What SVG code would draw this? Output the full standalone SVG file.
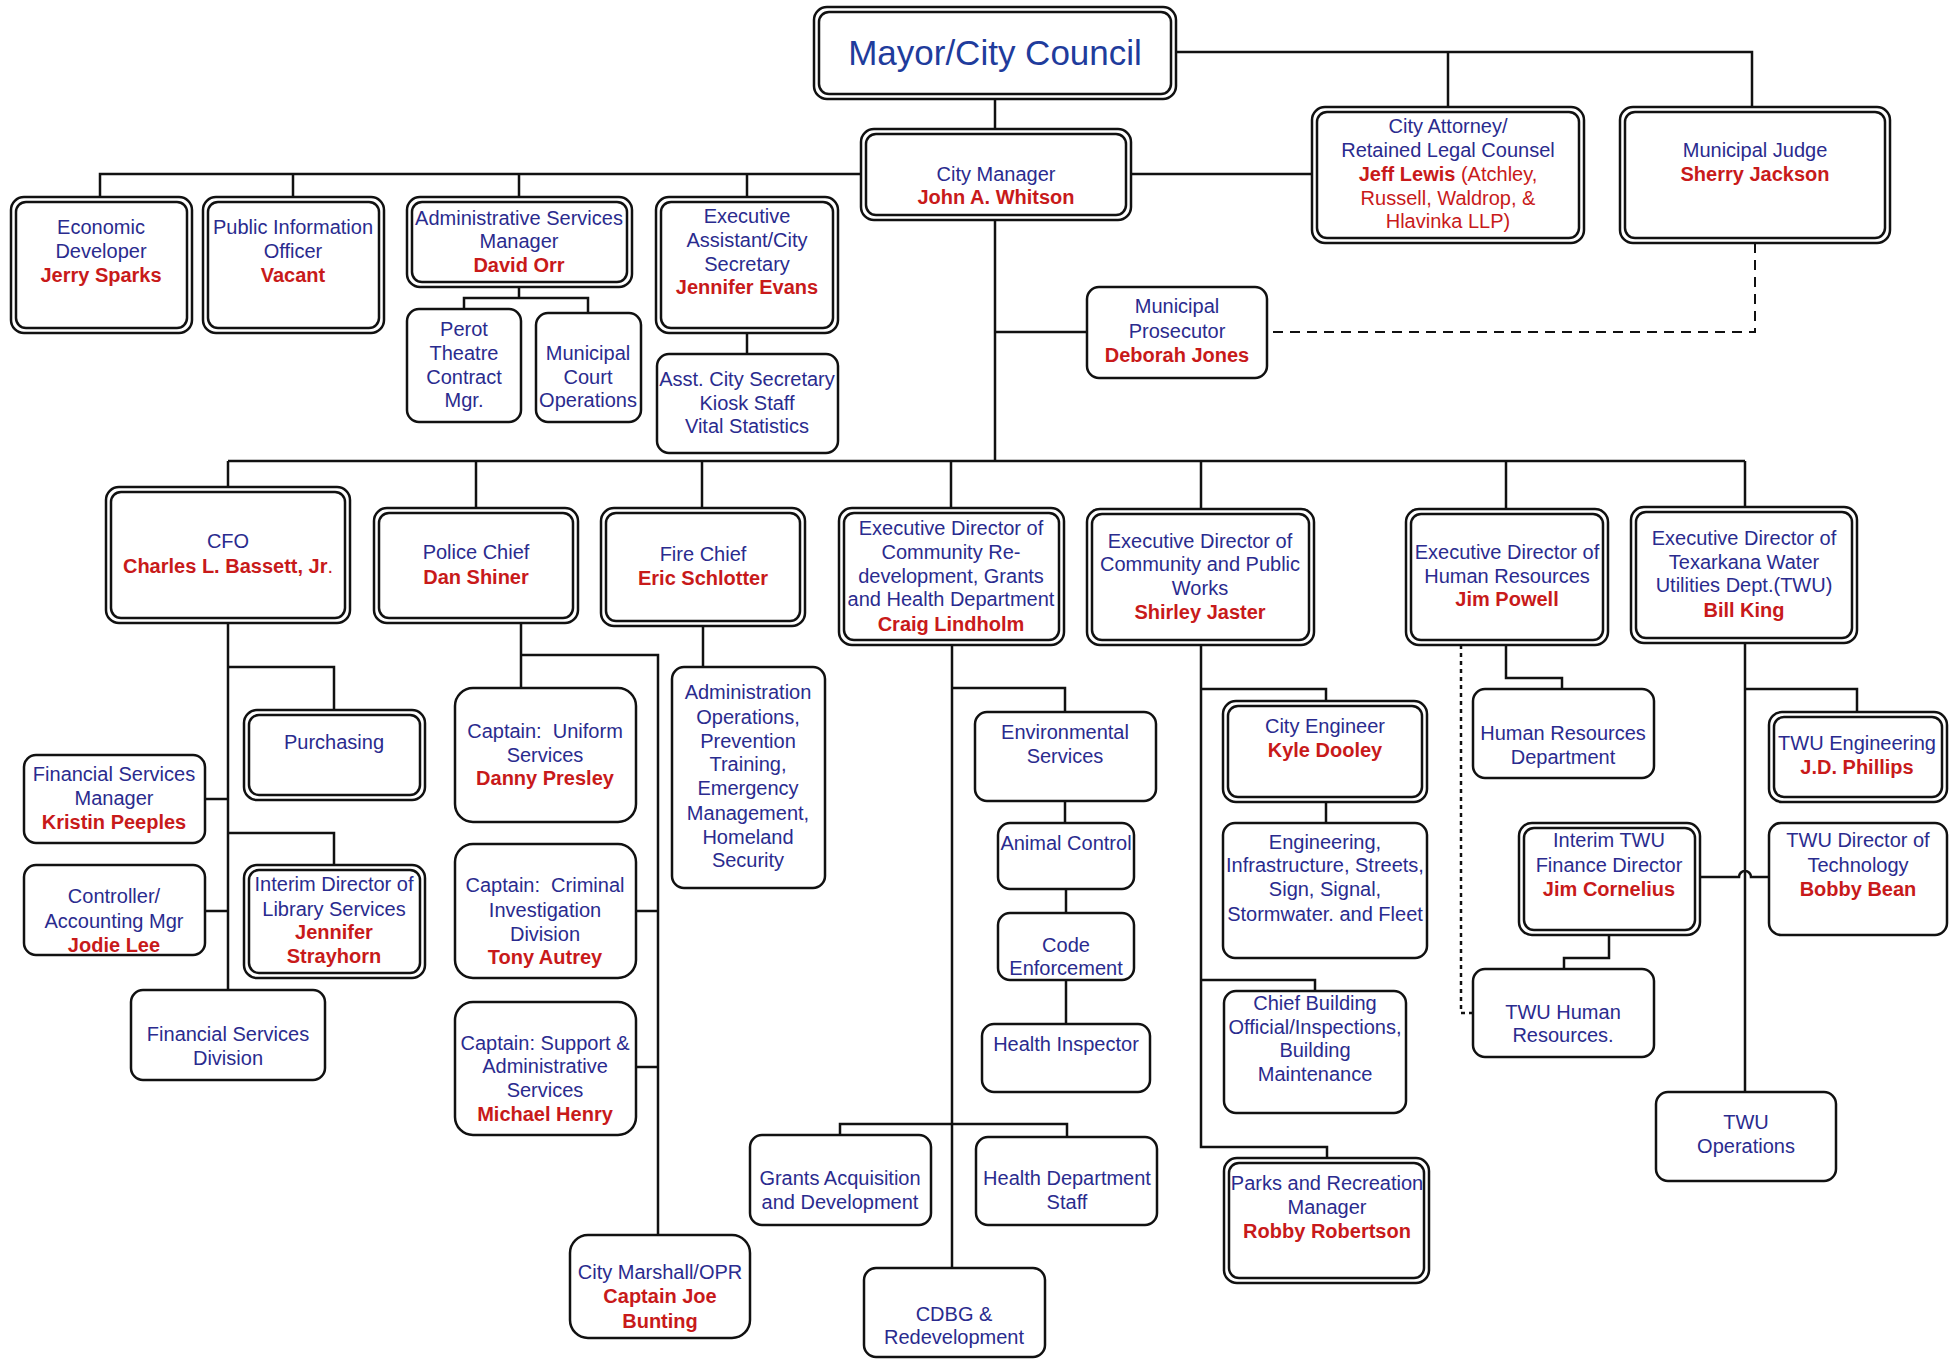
<svg xmlns="http://www.w3.org/2000/svg" width="1949" height="1360" viewBox="0 0 1949 1360">
<style>
rect{fill:#fff;stroke:#111;stroke-width:2.5}
.in{fill:none}
text{font-family:"Liberation Sans",Arial,sans-serif;font-size:20px;fill:#2a2b8e;text-anchor:middle}
.pre{white-space:pre}
.r{fill:#c81a1a;font-weight:bold}
.rn{fill:#c81a1a}
.title{font-size:35px;fill:#1f3c9c}
#connectors path{fill:none;stroke:#111;stroke-width:2.5}
#connectors .dash{stroke-dasharray:10 7;stroke-width:2}
#connectors .dot{stroke-dasharray:4 4;stroke-width:2.5}
</style>
<rect x="0" y="0" width="1949" height="1360" style="fill:#fff;stroke:none"/>
<g id="connectors">
<path d="M995,99V129"/>
<path d="M1176,52H1752V107M1448,52V107"/>
<path d="M1131,174H1312"/>
<path d="M861,174H100V197M293,174V197M519,174V197M747,174V197"/>
<path d="M519,287V298M464,309V298H588V313"/>
<path d="M747,333V354"/>
<path d="M995,220V461"/>
<path d="M995,332H1087"/>
<path class="dash" d="M1755,243V332H1267"/>
<path d="M228,461H1745M228,461V487M476,461V508M702,461V508M951,461V508M1201,461V509M1506,461V509M1745,461V507"/>
<path d="M228,623V990M228,667H334V710M205,799H228M228,833H334V865M205,911H228"/>
<path d="M521,623V688M521,655H658V1237M636,911H658M636,1067H658"/>
<path d="M703,626V667"/>
<path d="M952,645V1268M952,688H1065V712M1065,801V823M1066,889V913M1066,980V1024M840,1135V1124H1067V1137"/>
<path d="M1201,645V1147H1327V1158M1201,689H1326V701M1326,802V823M1201,980H1315V991"/>
<path d="M1506,645V678H1562V689"/>
<path class="dot" d="M1461,645V1013H1473"/>
<path d="M1609,935V958H1564V969"/>
<path d="M1745,643V1092M1745,689H1857V712"/>
<path d="M1700,877H1739A6,6 0 0 1 1751,877H1769"/>
</g>
<g id="mayor"><rect x="814" y="7" width="362" height="92" rx="13"/><rect class="in" x="819" y="12" width="352" height="82" rx="10"/><text class="title" x="995" y="65">Mayor/City Council</text></g>
<g id="city-manager"><rect x="861" y="129" width="270" height="91" rx="13"/><rect class="in" x="866" y="134" width="260" height="81" rx="10"/><text x="996" y="181">City Manager</text><text class="r" x="996" y="204">John A. Whitson</text></g>
<g id="city-attorney"><rect x="1312" y="107" width="272" height="136" rx="13"/><rect class="in" x="1317" y="112" width="262" height="126" rx="10"/><text x="1448" y="133">City Attorney/</text><text x="1448" y="157">Retained Legal Counsel</text><text class="rn" x="1448" y="181"><tspan font-weight="bold">Jeff Lewis</tspan> (Atchley,</text><text class="rn" x="1448" y="205">Russell, Waldrop, &amp;</text><text class="rn" x="1448" y="228">Hlavinka LLP)</text></g>
<g id="municipal-judge"><rect x="1620" y="107" width="270" height="136" rx="13"/><rect class="in" x="1625" y="112" width="260" height="126" rx="10"/><text x="1755" y="157">Municipal Judge</text><text class="r" x="1755" y="181">Sherry Jackson</text></g>
<g id="municipal-prosecutor"><rect x="1087" y="287" width="180" height="91" rx="12"/><text x="1177" y="313">Municipal</text><text x="1177" y="338">Prosecutor</text><text class="r" x="1177" y="362">Deborah Jones</text></g>
<g id="economic-developer"><rect x="11" y="197" width="181" height="136" rx="13"/><rect class="in" x="16" y="202" width="171" height="126" rx="10"/><text x="101" y="234">Economic</text><text x="101" y="258">Developer</text><text class="r" x="101" y="282">Jerry Sparks</text></g>
<g id="public-information-officer"><rect x="203" y="197" width="181" height="136" rx="13"/><rect class="in" x="208" y="202" width="171" height="126" rx="10"/><text x="293" y="234">Public Information</text><text x="293" y="258">Officer</text><text class="r" x="293" y="282">Vacant</text></g>
<g id="administrative-services"><rect x="407" y="197" width="225" height="90" rx="13"/><rect class="in" x="412" y="202" width="215" height="80" rx="10"/><text x="519" y="225">Administrative Services</text><text x="519" y="248">Manager</text><text class="r" x="519" y="272">David Orr</text></g>
<g id="perot-theatre"><rect x="407" y="309" width="114" height="113" rx="12"/><text x="464" y="336">Perot</text><text x="464" y="360">Theatre</text><text x="464" y="384">Contract</text><text x="464" y="407">Mgr.</text></g>
<g id="municipal-court"><rect x="536" y="313" width="105" height="109" rx="12"/><text x="588" y="360">Municipal</text><text x="588" y="384">Court</text><text x="588" y="407">Operations</text></g>
<g id="executive-assistant"><rect x="656" y="197" width="182" height="136" rx="13"/><rect class="in" x="661" y="202" width="172" height="126" rx="10"/><text x="747" y="223">Executive</text><text x="747" y="247">Assistant/City</text><text x="747" y="271">Secretary</text><text class="r" x="747" y="294">Jennifer Evans</text></g>
<g id="asst-city-secretary"><rect x="657" y="354" width="181" height="99" rx="12"/><text x="747" y="386">Asst. City Secretary</text><text x="747" y="410">Kiosk Staff</text><text x="747" y="433">Vital Statistics</text></g>
<g id="cfo"><rect x="106" y="487" width="244" height="136" rx="13"/><rect class="in" x="111" y="492" width="234" height="126" rx="10"/><text x="228" y="548">CFO</text><text class="r" x="228" y="573">Charles L. Bassett, Jr<tspan font-weight="normal">.</tspan></text></g>
<g id="police-chief"><rect x="374" y="508" width="204" height="115" rx="13"/><rect class="in" x="379" y="513" width="194" height="105" rx="10"/><text x="476" y="559">Police Chief</text><text class="r" x="476" y="584">Dan Shiner</text></g>
<g id="fire-chief"><rect x="601" y="508" width="204" height="118" rx="13"/><rect class="in" x="606" y="513" width="194" height="108" rx="10"/><text x="703" y="561">Fire Chief</text><text class="r" x="703" y="585">Eric Schlotter</text></g>
<g id="community-redevelopment"><rect x="839" y="508" width="225" height="137" rx="13"/><rect class="in" x="844" y="513" width="215" height="127" rx="10"/><text x="951" y="535">Executive Director of</text><text x="951" y="559">Community Re-</text><text x="951" y="583">development, Grants</text><text x="951" y="606">and Health Department</text><text class="r" x="951" y="631">Craig Lindholm</text></g>
<g id="public-works"><rect x="1087" y="509" width="227" height="136" rx="13"/><rect class="in" x="1092" y="514" width="217" height="126" rx="10"/><text x="1200" y="548">Executive Director of</text><text x="1200" y="571">Community and Public</text><text x="1200" y="595">Works</text><text class="r" x="1200" y="619">Shirley Jaster</text></g>
<g id="human-resources"><rect x="1406" y="509" width="202" height="136" rx="13"/><rect class="in" x="1411" y="514" width="192" height="126" rx="10"/><text x="1507" y="559">Executive Director of</text><text x="1507" y="583">Human Resources</text><text class="r" x="1507" y="606">Jim Powell</text></g>
<g id="twu"><rect x="1631" y="507" width="226" height="136" rx="13"/><rect class="in" x="1636" y="512" width="216" height="126" rx="10"/><text x="1744" y="545">Executive Director of</text><text x="1744" y="569">Texarkana Water</text><text x="1744" y="592">Utilities Dept.(TWU)</text><text class="r" x="1744" y="617">Bill King</text></g>
<g id="purchasing"><rect x="244" y="710" width="181" height="90" rx="13"/><rect class="in" x="249" y="715" width="171" height="80" rx="10"/><text x="334" y="749">Purchasing</text></g>
<g id="financial-services-manager"><rect x="24" y="755" width="181" height="88" rx="12"/><text x="114" y="781">Financial Services</text><text x="114" y="805">Manager</text><text class="r" x="114" y="829">Kristin Peeples</text></g>
<g id="library-services"><rect x="244" y="865" width="181" height="113" rx="13"/><rect class="in" x="249" y="870" width="171" height="103" rx="10"/><text x="334" y="891">Interim Director of</text><text x="334" y="916">Library Services</text><text class="r" x="334" y="939">Jennifer</text><text class="r" x="334" y="963">Strayhorn</text></g>
<g id="controller"><rect x="24" y="865" width="181" height="90" rx="12"/><text x="114" y="903">Controller/</text><text x="114" y="928">Accounting Mgr</text><text class="r" x="114" y="952">Jodie Lee</text></g>
<g id="financial-services-division"><rect x="131" y="990" width="194" height="90" rx="12"/><text x="228" y="1041">Financial Services</text><text x="228" y="1065">Division</text></g>
<g id="uniform-services"><rect x="455" y="688" width="181" height="134" rx="18"/><text class="pre" x="545" y="738">Captain:  Uniform</text><text x="545" y="762">Services</text><text class="r" x="545" y="785">Danny Presley</text></g>
<g id="criminal-investigation"><rect x="455" y="844" width="181" height="134" rx="18"/><text class="pre" x="545" y="892">Captain:  Criminal</text><text x="545" y="917">Investigation</text><text x="545" y="941">Division</text><text class="r" x="545" y="964">Tony Autrey</text></g>
<g id="support-services"><rect x="455" y="1002" width="181" height="133" rx="18"/><text x="545" y="1050">Captain: Support &amp;</text><text x="545" y="1073">Administrative</text><text x="545" y="1097">Services</text><text class="r" x="545" y="1121">Michael Henry</text></g>
<g id="city-marshall"><rect x="570" y="1235" width="180" height="103" rx="18"/><text x="660" y="1279">City Marshall/OPR</text><text class="r" x="660" y="1303">Captain Joe</text><text class="r" x="660" y="1328">Bunting</text></g>
<g id="fire-administration"><rect x="672" y="667" width="153" height="221" rx="12"/><text x="748" y="699">Administration</text><text x="748" y="724">Operations,</text><text x="748" y="748">Prevention</text><text x="748" y="771">Training,</text><text x="748" y="795">Emergency</text><text x="748" y="820">Management,</text><text x="748" y="844">Homeland</text><text x="748" y="867">Security</text></g>
<g id="environmental-services"><rect x="975" y="712" width="181" height="89" rx="12"/><text x="1065" y="739">Environmental</text><text x="1065" y="763">Services</text></g>
<g id="animal-control"><rect x="998" y="823" width="136" height="66" rx="12"/><text x="1066" y="850">Animal Control</text></g>
<g id="code-enforcement"><rect x="998" y="913" width="136" height="67" rx="12"/><text x="1066" y="952">Code</text><text x="1066" y="975">Enforcement</text></g>
<g id="health-inspector"><rect x="982" y="1024" width="168" height="68" rx="12"/><text x="1066" y="1051">Health Inspector</text></g>
<g id="grants"><rect x="750" y="1135" width="181" height="90" rx="12"/><text x="840" y="1185">Grants Acquisition</text><text x="840" y="1209">and Development</text></g>
<g id="health-department-staff"><rect x="976" y="1137" width="181" height="88" rx="12"/><text x="1067" y="1185">Health Department</text><text x="1067" y="1209">Staff</text></g>
<g id="cdbg"><rect x="864" y="1268" width="181" height="89" rx="12"/><text x="954" y="1321">CDBG &amp;</text><text x="954" y="1344">Redevelopment</text></g>
<g id="city-engineer"><rect x="1223" y="701" width="204" height="101" rx="13"/><rect class="in" x="1228" y="706" width="194" height="91" rx="10"/><text x="1325" y="733">City Engineer</text><text class="r" x="1325" y="757">Kyle Dooley</text></g>
<g id="engineering"><rect x="1223" y="823" width="204" height="135" rx="12"/><text x="1325" y="849">Engineering,</text><text x="1325" y="872">Infrastructure, Streets,</text><text x="1325" y="896">Sign, Signal,</text><text x="1325" y="921">Stormwater. and Fleet</text></g>
<g id="chief-building-official"><rect x="1224" y="991" width="182" height="122" rx="12"/><text x="1315" y="1010">Chief Building</text><text x="1315" y="1034">Official/Inspections,</text><text x="1315" y="1057">Building</text><text x="1315" y="1081">Maintenance</text></g>
<g id="parks-recreation"><rect x="1224" y="1158" width="205" height="125" rx="13"/><rect class="in" x="1229" y="1163" width="195" height="115" rx="10"/><text x="1327" y="1190">Parks and Recreation</text><text x="1327" y="1214">Manager</text><text class="r" x="1327" y="1238">Robby Robertson</text></g>
<g id="hr-department"><rect x="1473" y="689" width="181" height="89" rx="12"/><text x="1563" y="740">Human Resources</text><text x="1563" y="764">Department</text></g>
<g id="twu-finance"><rect x="1519" y="823" width="181" height="112" rx="13"/><rect class="in" x="1524" y="828" width="171" height="102" rx="10"/><text x="1609" y="847">Interim TWU</text><text x="1609" y="872">Finance Director</text><text class="r" x="1609" y="896">Jim Cornelius</text></g>
<g id="twu-human-resources"><rect x="1473" y="969" width="181" height="88" rx="12"/><text x="1563" y="1019">TWU Human</text><text x="1563" y="1042">Resources.</text></g>
<g id="twu-engineering"><rect x="1769" y="712" width="178" height="90" rx="13"/><rect class="in" x="1774" y="717" width="168" height="80" rx="10"/><text x="1857" y="750">TWU Engineering</text><text class="r" x="1857" y="774">J.D. Phillips</text></g>
<g id="twu-technology"><rect x="1769" y="823" width="178" height="112" rx="12"/><text x="1858" y="847">TWU Director of</text><text x="1858" y="872">Technology</text><text class="r" x="1858" y="896">Bobby Bean</text></g>
<g id="twu-operations"><rect x="1656" y="1092" width="180" height="89" rx="12"/><text x="1746" y="1129">TWU</text><text x="1746" y="1153">Operations</text></g>
</svg>
